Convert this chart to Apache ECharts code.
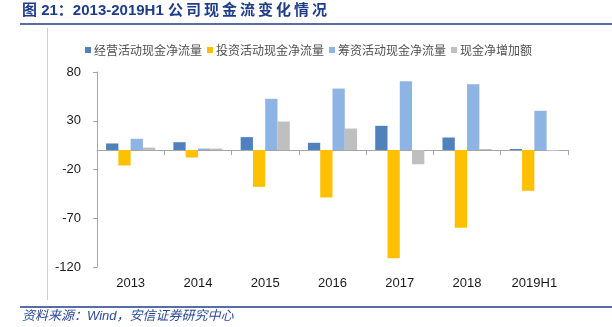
<!DOCTYPE html>
<html>
<head>
<meta charset="utf-8">
<script src="https://cdn.jsdelivr.net/npm/echarts@6/dist/echarts.min.js"></script>
<style>html,body{margin:0;padding:0;background:#fff}#c{width:612px;height:327px}</style>
</head>
<body>
<div id="c"></div>
<script>
const categories = ['2013','2014','2015','2016','2017','2018','2019H1'];
const seriesNames = ['经营活动现金净流量','投资活动现金净流量','筹资活动现金净流量','现金净增加额'];
const operating = [6.7, 8.0, 13.2, 7.4, 24.8, 12.8, 1.0];
const investing = [-15.9, -7.7, -37.8, -48.7, -111.0, -79.8, -41.9];
const financing = [11.5, 1.5, 52.5, 63.0, 70.6, 67.5, 40.2];
const netChange = [2.5, 1.5, 29.2, 22.0, -14.6, 1.0, -1.0];
const yTicks = [-120, -70, -20, 30, 80];

const colors = ['#4F81BD', '#FFC000', '#8EB4E3', '#BFBFBF'];
const chart = echarts.init(document.getElementById('c'), null, {renderer: 'canvas'});
const font = 'Arial, "Liberation Sans", sans-serif';
const cjk = '"Noto Sans CJK SC", sans-serif';
const mk = (name, data, i) => ({
  name, type: 'bar', data, xAxisIndex: 0,
  barGap: '0%', barCategoryGap: '27%',
  itemStyle: {color: colors[i]}
});
chart.setOption({
  animation: false,
  color: colors,
  grid: {left: 97, right: 44, top: 72, bottom: 60, containLabel: false},
  legend: {
    data: seriesNames, left: 80, top: 39,
    itemWidth: 6, itemHeight: 6, itemGap: 5, icon: 'rect',
    textStyle: {fontFamily: cjk, fontSize: 12, color: '#505050', padding: [0,0,0,-2]}
  },
  xAxis: [{
    type: 'category', data: categories,
    axisLine: {onZero: true, lineStyle: {color: '#A6A6A6', width: 1}},
    axisTick: {show: true, length: 5, lineStyle: {color: '#A6A6A6'}},
    axisLabel: {show: false}
  }, {
    type: 'category', data: categories, position: 'bottom',
    axisLine: {show: false, onZero: false}, axisTick: {show: false},
    axisLabel: {fontFamily: font, fontSize: 13, color: '#1A1A1A', margin: 10}
  }],
  yAxis: {
    type: 'value', min: yTicks[0], max: yTicks[yTicks.length-1], interval: 50,
    axisLine: {show: true, lineStyle: {color: '#A6A6A6'}},
    axisTick: {show: true, length: 4, lineStyle: {color: '#A6A6A6'}},
    splitLine: {show: false},
    axisLabel: {fontFamily: font, fontSize: 13, color: '#1A1A1A', margin: 16}
  },
  series: [mk(seriesNames[0], operating, 0), mk(seriesNames[1], investing, 1), mk(seriesNames[2], financing, 2), mk(seriesNames[3], netChange, 3)],
  graphic: [
    {type: 'text', left: 22, top: 3, style: {text: '图 21：2013-2019H1 公\u2009司\u2009现\u2009金\u2009流\u2009变\u2009化\u2009情\u2009况', fill: '#1F3C88', font: 'bold 15px "Liberation Sans", "Noto Sans CJK SC", sans-serif'}},
    {type: 'line', shape: {x1: 20, y1: 24, x2: 612, y2: 24}, style: {stroke: '#1F3C88', lineWidth: 1.5}},
    {type: 'line', shape: {x1: 47.5, y1: 28, x2: 47.5, y2: 300}, style: {stroke: '#D0D0D0', lineWidth: 1}},
    {type: 'line', shape: {x1: 20, y1: 307, x2: 612, y2: 307}, style: {stroke: '#1F3C88', lineWidth: 1.5}},
    {type: 'text', left: 22, top: 310, style: {text: '资料来源：Wind，安信证券研究中心', fill: '#2B4A99', font: 'italic 13px "Liberation Sans", "Noto Sans CJK SC", sans-serif'}}
  ]
});
</script>
</body>
</html>
